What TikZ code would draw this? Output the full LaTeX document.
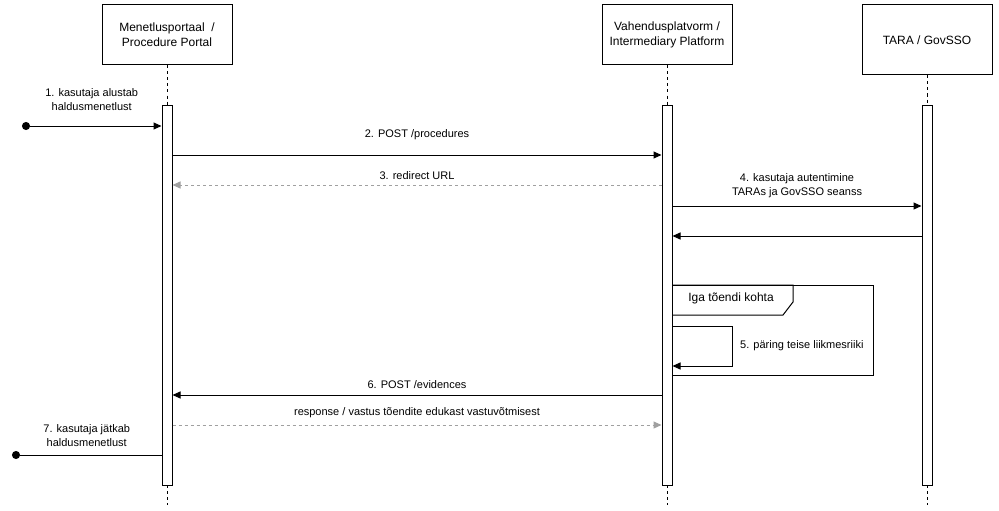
\documentclass[tikz,border=0pt]{standalone}
\usepackage{fontspec}
\setmainfont{Liberation Sans}
\usetikzlibrary{arrows.meta,calc}
\definecolor{seqline}{RGB}{0,0,0}
\definecolor{seqreply}{RGB}{160,160,160}
\tikzset{
  actor/.style  ={draw=seqline, line width=1pt, fill=white, minimum width=130pt, minimum height=60pt, align=center, inner sep=0pt, font=\fontsize{12}{15}\selectfont},
  actbar/.style ={draw=seqline, line width=1pt, fill=white, minimum width=10pt, minimum height=380pt, inner sep=0pt},
  life/.style   ={draw=seqline, line width=0.8pt, dash pattern=on 3pt off 3pt},
  msg/.style    ={draw=seqline, line width=1pt, -{Triangle[length=8pt,width=7pt]}},
  reply/.style  ={draw=seqreply, line width=1pt, dash pattern=on 3pt off 3pt, -{Triangle[length=8pt,width=7pt]}},
  found/.style  ={draw=seqline, line width=1pt, {Circle[length=8pt]}-{Triangle[length=8pt,width=7pt]}},
  lost/.style   ={draw=seqline, line width=1pt, -{Circle[length=8pt]}},
  lab/.style    ={font=\fontsize{11}{14}\selectfont, align=center, inner sep=0pt},
  frm/.style    ={draw=seqline, line width=1pt},
}

\begin{document}
\begin{tikzpicture}[x=1pt, y=-1pt]
  \useasboundingbox (0,0) rectangle (999,511);
  \node[actor] (portal) at (167,35) {Menetlusportaal\ \ /\\Procedure Portal};
  \node[actor] (platform) at (667,35) {Vahendusplatvorm /\\Intermediary Platform};
  \node[actor, minimum height=70pt] (tara) at (927,40) {TARA / GovSSO};
  \coordinate (end1) at (167,505);
  \coordinate (end2) at (667,505);
  \coordinate (end3) at (927,505);
  \draw[life] (portal.south) -- (167,105);
  \draw[life] (platform.south) -- (667,105);
  \draw[life] (tara.south) -- (927,105);
  \draw[life] (167,485) -- (end1);
  \draw[life] (667,485) -- (end2);
  \draw[life] (927,485) -- (end3);
  \node[actbar] (bar1) at (167,295) {};
  \node[actbar] (bar2) at (667,295) {};
  \node[actbar] (bar3) at (927,295) {};

  \coordinate (m1) at (22,126);
  \coordinate (m2) at (0,155);
  \coordinate (m3) at (0,185);
  \coordinate (m4) at (0,206);
  \coordinate (m4r) at (0,236);
  \coordinate (m6) at (0,395);
  \coordinate (m6r) at (0,425);
  \coordinate (m7) at (12,455);

  \draw[found] (m1) -- (bar1.west |- m1)
    node[lab, midway, yshift=26.5pt] {1. kasutaja alustab\\haldusmenetlust};
  \draw[msg] (bar1.east |- m2) -- (bar2.west |- m2)
    node[lab, midway, yshift=20pt] {2. POST /procedures};
  \draw[reply] (bar2.west |- m3) -- (bar1.east |- m3)
    node[lab, midway, yshift=9pt] {3. redirect URL};
  \draw[msg] (bar2.east |- m4) -- (bar3.west |- m4)
    node[lab, midway, yshift=20pt] {4. kasutaja autentimine\\TARAs ja GovSSO seanss};
  \draw[msg] (bar3.west |- m4r) -- (bar2.east |- m4r);

  \draw[frm] (672,285) rectangle (873,375);
  \draw[frm] (672,285) -- (793,285) -- (793,302) -- (783,315) -- (672,315);
  \node[font=\fontsize{12}{14}\selectfont, inner sep=0pt] (loop) at (731,298) {Iga tõendi kohta};
  \coordinate (s1) at (732,326);
  \coordinate (s2) at (732,366);
  \draw[msg] (bar2.east |- s1) -- (s1) -- (s2) -- (bar2.east |- s2);
  \node[lab, anchor=west] (req) at (740,346) {5. päring teise liikmesriiki};

  \draw[msg] (bar2.west |- m6) -- (bar1.east |- m6)
    node[lab, midway, yshift=10pt] {6. POST /evidences};
  \draw[reply] (bar1.east |- m6r) -- (bar2.west |- m6r)
    node[lab, midway, yshift=12pt] {response / vastus tõendite edukast vastuvõtmisest};
  \draw[lost] (bar1.west |- m7) -- (m7)
    node[lab, midway, yshift=19.5pt] {7. kasutaja jätkab\\haldusmenetlust};
\end{tikzpicture}
\end{document}
